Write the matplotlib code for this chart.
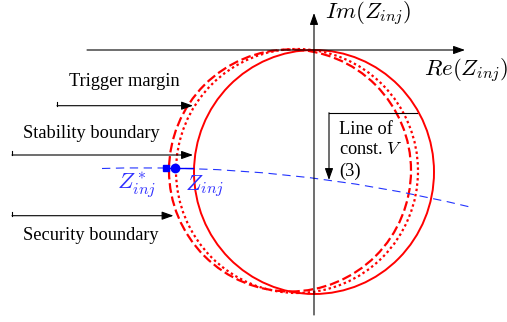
import matplotlib
matplotlib.use("Agg")
import matplotlib.pyplot as plt
from matplotlib.patches import Ellipse, FancyArrowPatch, PathPatch
from matplotlib.path import Path

plt.rcParams['font.family'] = ['Liberation Serif', 'DejaVu Serif']
plt.rcParams['mathtext.fontset'] = 'cm'

# ---- data (diagram units, origin at axes crossing) ----
boundary_names = ["Stability boundary", "Security boundary", "Trigger margin"]
boundary_centers = [(0, -122), (-24, -120.5), (-17, -121)]
boundary_widths = [240, 242, 242]
boundary_heights = [244, 242, 244]
boundary_styles = ["solid", (0, (4.4, 1.7)), (0, (1.1, 1.3))]
boundary_lw = [1.4, 1.6, 1.6]

# label text position, arrow start x, arrow y, arrow tip x
label_pos = [(-223, -83), (-223, -186), (-190, -32)]
arrow_start_x = [-302, -302, -257]
arrow_y = [-105, -165.7, -55.7]
arrow_tip_x = [-121, -140.5, -121]

# line of constant V (quadratic curve: start, control, end)
constv_curve = [(-212, -118.5), (-26.4, -112.4), (156, -157)]
z_star = (-148, -118.3)
z_op = (-139, -118.3)
z_seg_end = -121
z_labels = [r"$Z^*_{inj}$", r"$Z_{inj}$"]
z_label_pos = [(-177, -135), (-109, -137)]

re_axis = (-227, 151)
im_axis = (-265, 37)

constv_box = [(103, -62.7), (15, -62.7), (15, -130)]
constv_text = ["Line of", "const. $V$", "(3)"]
constv_text_y = [-80, -100, -121]

fig = plt.figure(figsize=(5.07, 3.22), dpi=100)
ax = fig.add_axes([0, 0, 1, 1])
ax.set_xlim(-314, 193)
ax.set_ylim(-272, 50)
ax.axis('off')

FS = 13.2
MFS = 16.5

def arrow(p0, p1, lw=0.8):
    a = FancyArrowPatch(p0, p1, arrowstyle='-|>,head_length=0.7,head_width=0.25',
                        mutation_scale=10, color='black', lw=lw,
                        shrinkA=0, shrinkB=0, zorder=3)
    ax.add_patch(a)

# axes
arrow((re_axis[0], 0), (re_axis[1], 0))
arrow((0, im_axis[0]), (0, im_axis[1]))
ax.text(11, 36, r"$Im(Z_{inj})$", fontsize=MFS, ha='left', va='center')
ax.text(110, -21, r"$Re(Z_{inj})$", fontsize=MFS, ha='left', va='center')

# boundaries
for c, w, h, ls, lw in zip(boundary_centers, boundary_widths, boundary_heights,
                           boundary_styles, boundary_lw):
    ax.add_patch(Ellipse(c, w, h, fill=False, edgecolor='red', lw=lw, linestyle=ls, zorder=2))

# labels with arrows
for name, (tx, ty), x0, y, xt in zip(boundary_names, label_pos, arrow_start_x,
                                     arrow_y, arrow_tip_x):
    ax.text(tx, ty, name, fontsize=FS, ha='center', va='center')
    ax.plot([x0, x0], [y + 4, y], color='black', lw=0.8)
    arrow((x0, y), (xt, y))

# line of constant V
path = Path(constv_curve, [Path.MOVETO, Path.CURVE3, Path.CURVE3])
ax.add_patch(PathPatch(path, fill=False, edgecolor='#2233ff', lw=0.8,
                       linestyle=(0, (7.5, 5)), zorder=2))
ax.plot([z_star[0], z_seg_end], [z_star[1], z_star[1]], color='blue', lw=1.0, zorder=4)
ax.plot([z_star[0]], [z_star[1]], marker='s', ms=5, color='blue', zorder=5)
ax.plot([z_op[0]], [z_op[1]], marker='o', ms=6, color='blue', zorder=5)
for lab, (lx, ly) in zip(z_labels, z_label_pos):
    ax.text(lx, ly, lab, fontsize=MFS, color='#3030ff', ha='center', va='center')

bx, by = zip(*constv_box)
ax.plot(bx[:2], by[:2], color='black', lw=0.8)
arrow(constv_box[1], constv_box[2])
for t, y in zip(constv_text, constv_text_y):
    ax.text(25, y, t, fontsize=FS, ha='left', va='center')

fig.savefig("out.png", dpi=100)
